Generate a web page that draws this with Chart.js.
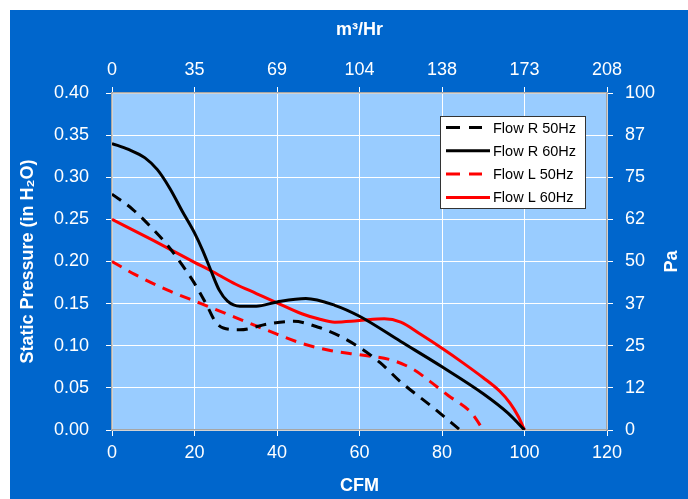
<!DOCTYPE html>
<html>
<head>
<meta charset="utf-8">
<script src="https://cdn.jsdelivr.net/npm/chart.js@4"></script>
<style>
  html, body { margin: 0; padding: 0; background: #ffffff; }
  #wrap { position: absolute; left: 10px; top: 10px; width: 678px; height: 489px; background: #0066CC; }
  canvas { display: block; }
</style>
</head>
<body>
<div id="wrap"><canvas id="c" width="678" height="489"></canvas></div>
<script>
// ---- Data (CFM vs Static Pressure inH2O) ----
const r50X = [0, 5, 10, 13.5, 17, 20, 23, 25, 27, 31, 38, 44, 50, 55, 60, 65, 70, 77.5, 84.4];
const r50Y = [0.280, 0.262, 0.238, 0.219, 0.196, 0.174, 0.148, 0.129, 0.121, 0.119, 0.126, 0.129, 0.122, 0.112, 0.098, 0.080, 0.057, 0.028, 0.000];

const r60X = [0, 4, 8, 11, 14, 17, 20, 22, 24, 26, 28, 31, 35, 40, 47, 54, 60, 70, 80, 90, 96, 100];
const r60Y = [0.340, 0.333, 0.323, 0.309, 0.287, 0.260, 0.234, 0.213, 0.189, 0.166, 0.153, 0.147, 0.147, 0.152, 0.156, 0.148, 0.135, 0.105, 0.075, 0.043, 0.020, 0.000];

const l50X = [0, 5.4, 13.5, 21.6, 29.7, 37.8, 45.9, 53.2, 60.5, 67.8, 73.4, 77, 81.5, 87.2, 90];
const l50Y = [0.200, 0.185, 0.166, 0.150, 0.134, 0.118, 0.103, 0.094, 0.089, 0.083, 0.071, 0.058, 0.041, 0.020, 0.000];

const l60X = [0, 10, 20, 24, 30, 35, 40, 46, 50, 54, 58, 62, 66, 70, 75, 80, 85, 90, 94, 96.5, 98.5, 100];
const l60Y = [0.250, 0.225, 0.199, 0.189, 0.173, 0.162, 0.151, 0.138, 0.132, 0.128, 0.129, 0.131, 0.132, 0.128, 0.113, 0.097, 0.080, 0.062, 0.046, 0.032, 0.016, 0.000];

const seriesLabels = ['Flow R 50Hz', 'Flow R 60Hz', 'Flow L 50Hz', 'Flow L 60Hz'];
const topTickLabels = ['0', '35', '69', '104', '138', '173', '208'];
const rightTickLabels = ['0', '12', '25', '37', '50', '62', '75', '87', '100'];

const pts = (xs, ys) => xs.map((x, i) => ({ x: x, y: ys[i] }));

const FONT = 'Arial, "Liberation Sans", sans-serif';
const tickFont = { family: FONT, size: 18 };
const titleFont = { family: FONT, size: 18, weight: 'bold' };

const plotBg = {
  id: 'plotBg',
  beforeDraw(chart) {
    const { ctx, chartArea: a } = chart;
    ctx.save();
    ctx.fillStyle = '#99CCFF';
    ctx.fillRect(a.left, a.top, a.right - a.left, a.bottom - a.top);
    ctx.restore();
  }
};

const extras = {
  id: 'extras',
  afterDraw(chart) {
    const { ctx, chartArea: a } = chart;
    ctx.save();
    // Right axis title "Pa" (reads bottom to top)
    ctx.translate(662, (a.top + a.bottom) / 2);
    ctx.rotate(-Math.PI / 2);
    ctx.font = 'bold 18px ' + FONT;
    ctx.fillStyle = '#ffffff';
    ctx.textAlign = 'center';
    ctx.textBaseline = 'middle';
    ctx.fillText('Pa', 0, 0);
    ctx.restore();

    // Legend box inside plot area
    const bx = 430.5, by = 106.5, bw = 145, bh = 92;
    ctx.save();
    ctx.fillStyle = '#ffffff';
    ctx.fillRect(bx, by, bw, bh);
    ctx.strokeStyle = '#333333';
    ctx.lineWidth = 1;
    ctx.strokeRect(bx, by, bw, bh);
    const rows = [117.5, 140.8, 164.1, 187.4];
    chart.data.datasets.forEach((ds, i) => {
      const y = rows[i];
      const dashed = !!ds.borderDash;
      ctx.beginPath();
      ctx.setLineDash(dashed ? [14, 9] : []);
      ctx.strokeStyle = ds.borderColor;
      ctx.lineWidth = 3;
      ctx.moveTo(436, y);
      ctx.lineTo(dashed ? 472 : 480, y);
      ctx.stroke();
      ctx.setLineDash([]);
      ctx.fillStyle = '#000000';
      ctx.font = '14.5px ' + FONT;
      ctx.textAlign = 'left';
      ctx.textBaseline = 'middle';
      ctx.fillText(ds.label, 483, y + 1);
    });
    ctx.restore();
  }
};

const common = {
  borderWidth: 3,
  pointRadius: 0,
  pointHoverRadius: 0,
  fill: false,
  tension: 0.4,
  cubicInterpolationMode: 'monotone'
};

new Chart(document.getElementById('c'), {
  type: 'line',
  data: {
    datasets: [
      { ...common, label: seriesLabels[0], data: pts(r50X, r50Y), borderColor: '#000000', borderDash: [11, 8] },
      { ...common, label: seriesLabels[1], data: pts(r60X, r60Y), borderColor: '#000000' },
      { ...common, label: seriesLabels[2], data: pts(l50X, l50Y), borderColor: '#FF0000', borderDash: [11, 8] },
      { ...common, label: seriesLabels[3], data: pts(l60X, l60Y), borderColor: '#FF0000' }
    ]
  },
  options: {
    responsive: false,
    animation: false,
    events: [],
    layout: { padding: 0 },
    plugins: { legend: { display: false }, tooltip: { enabled: false } },
    scales: {
      x: {
        type: 'linear', position: 'bottom', min: 0, max: 120,
        ticks: { stepSize: 20, color: '#ffffff', font: tickFont, padding: 6, maxRotation: 0 },
        grid: { color: '#ffffff', lineWidth: 1, tickLength: 6, tickColor: '#ffffff' },
        border: { color: '#A6A6A6', width: 1.5 },
        title: { display: true, text: 'CFM', color: '#ffffff', font: titleFont, padding: { top: 0, bottom: 2 } },
        afterFit: s => { s.height = 69; }
      },
      x2: {
        type: 'linear', position: 'top', min: 0, max: 120,
        ticks: { stepSize: 20, color: '#ffffff', font: tickFont, padding: 6, maxRotation: 0,
          callback: (v, i) => topTickLabels[i] },
        grid: { drawOnChartArea: false, color: '#ffffff', tickLength: 6, tickColor: '#ffffff' },
        border: { color: '#A6A6A6', width: 1.5 },
        title: { display: true, text: 'm³/Hr', color: '#ffffff', font: titleFont, padding: { top: 9, bottom: 0 } },
        afterFit: s => { s.height = 83; }
      },
      y: {
        type: 'linear', position: 'left', min: 0, max: 0.4,
        ticks: { stepSize: 0.05, color: '#ffffff', font: tickFont, padding: 17,
          callback: v => Number(v).toFixed(2) },
        grid: { color: '#ffffff', lineWidth: 1, tickLength: 6, tickColor: '#ffffff' },
        border: { color: '#A6A6A6', width: 1.5 },
        title: { display: true, text: 'Static Pressure (in H₂O)', color: '#ffffff', font: titleFont, padding: { top: 7, bottom: 0 } },
        afterFit: s => { s.width = 102; }
      },
      y2: {
        type: 'linear', position: 'right', min: 0, max: 0.4,
        ticks: { stepSize: 0.05, color: '#ffffff', font: tickFont, padding: 12,
          callback: (v, i) => rightTickLabels[i] },
        grid: { drawOnChartArea: false, color: '#ffffff', tickLength: 6, tickColor: '#ffffff' },
        border: { color: '#A6A6A6', width: 1.5 },
        afterFit: s => { s.width = 81; }
      }
    }
  },
  plugins: [plotBg, extras]
});
</script>
</body>
</html>
